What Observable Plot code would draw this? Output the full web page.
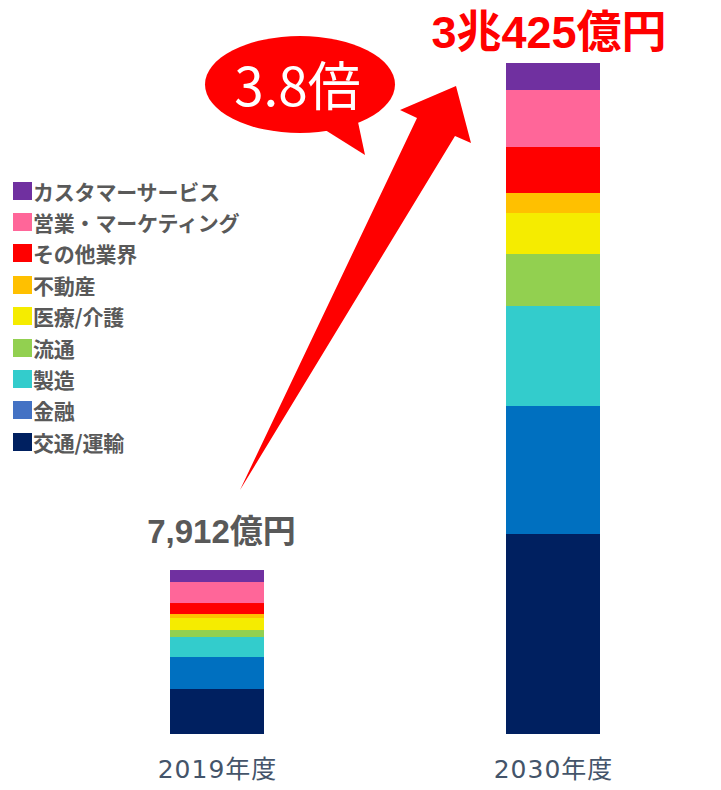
<!DOCTYPE html>
<html>
<head>
<meta charset="utf-8">
<script src="https://cdn.jsdelivr.net/npm/d3@7"></script>
<script src="https://cdn.jsdelivr.net/npm/@observablehq/plot@0.6"></script>
<style>
  html, body { margin: 0; padding: 0; background: #ffffff; }
  #wrap { position: relative; width: 721px; height: 790px; overflow: hidden; }
  #legend { position: absolute; left: 13px; top: 175px; font-family: "Noto Sans CJK JP", sans-serif; font-size: 21px; font-weight: 700; letter-spacing: -0.2px; color: #595959; }
  .row { display: flex; align-items: center; height: 31.4px; white-space: nowrap; }
  .sw { width: 19px; height: 18px; margin-right: 1px; flex: none; }
</style>
</head>
<body>
<div id="wrap"><div id="legend"></div></div>
<script>
// ---- data ----
const years = ["2019年度", "2030年度"];
const segments = ["交通/運輸", "金融", "製造", "流通", "医療/介護", "不動産", "その他業界", "営業・マーケティング", "カスタマーサービス"];
const values2019 = [2040, 1451, 907, 317, 544, 181, 499, 952, 544];
const values2030 = [9068, 5804, 4534, 2358, 1859, 907, 2086, 2584, 1224];
const totalLabels = ["7,912億円", "3兆425億円"];
const multiplierLabel = "3.8倍";
const barColors = ["#002060", "#0070C0", "#33CCCC", "#92D050", "#F5EC00", "#FFC000", "#FF0000", "#FF6699", "#7030A0"];
const legendColors = ["#002060", "#4472C4", "#33CCCC", "#92D050", "#F5EC00", "#FFC000", "#FF0000", "#FF6699", "#7030A0"];

// ---- derived tables ----
const seriesValues = [values2019, values2030];
const rows = years.flatMap((yr, i) => segments.map((s, j) => ({year: yr, segment: s, value: seriesValues[i][j]})));
const totals = years.map((yr, i) => ({year: yr, total: d3.sum(seriesValues[i]), label: totalLabels[i]}));

const jpFont = '"Noto Sans CJK JP", sans-serif';
const numFont = '"Liberation Sans", "Noto Sans CJK JP", sans-serif';

const chart = Plot.plot({
  width: 721,
  height: 790,
  marginTop: 63,
  marginBottom: 56,
  marginLeft: 169.75,
  marginRight: 120.25,
  x: {domain: years, paddingInner: 0.7192, paddingOuter: 0, align: 0.5, label: null},
  y: {domain: [0, d3.max(totals, d => d.total)], axis: null},
  color: {domain: segments, range: barColors},
  style: {background: "white", fontFamily: jpFont, overflow: "visible"},
  marks: [
    Plot.barY(rows, {x: "year", y: "value", fill: "segment"}),
    Plot.axisX({tickSize: 0, tickPadding: 26, fontSize: 25, fill: "#44546A", color: "#44546A",
      fontFamily: '"DejaVu Sans", "Noto Sans CJK JP", sans-serif', label: null}),
    Plot.text([totals[0]], {x: "year", y: "total", text: "label", lineAnchor: "bottom", dy: -28, dx: 4,
      fontSize: 33, fontWeight: "bold", fill: "#595959", fontFamily: numFont}),
    Plot.text([totals[1]], {x: "year", y: "total", text: "label", lineAnchor: "bottom", dy: -16, dx: -4.5,
      fontSize: 45, fontWeight: "bold", fill: "#FF0000", fontFamily: numFont})
  ]
});

// ---- annotations: growth arrow and callout bubble ----
const svg = d3.select(chart);
svg.selectAll("g[aria-label='x-axis tick label'] text").attr("letter-spacing", "1px");
const ann = svg.append("g");
ann.append("path")
  .attr("d", "M240,490 L417,118 L400,110 L456,86 L471,143 L455,136 Z")
  .attr("fill", "#FF0000");
ann.append("ellipse")
  .attr("cx", 300).attr("cy", 84.5).attr("rx", 95).attr("ry", 48.5)
  .attr("fill", "#FF0000");
ann.append("path")
  .attr("d", "M322,128 L358,122 L365,155 Z")
  .attr("fill", "#FF0000");
ann.append("text")
  .attr("x", 297.5).attr("y", 106)
  .attr("text-anchor", "middle")
  .attr("font-family", jpFont)
  .attr("font-size", 53)
  .attr("fill", "#FFFFFF")
  .text(multiplierLabel);

document.getElementById("wrap").prepend(chart);

// ---- legend ----
const legend = d3.select("#legend");
const order = d3.range(segments.length).reverse();
for (const i of order) {
  const r = legend.append("div").attr("class", "row");
  r.append("div").attr("class", "sw").style("background", legendColors[i]);
  r.append("span").text(segments[i]);
}
</script>
</body>
</html>
